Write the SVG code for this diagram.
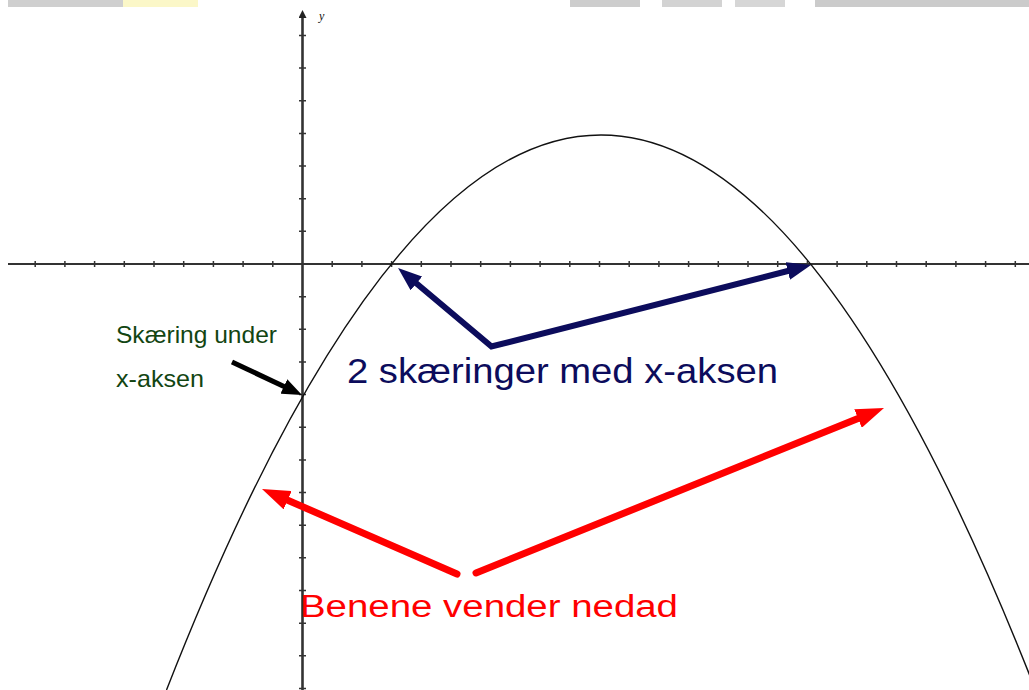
<svg xmlns="http://www.w3.org/2000/svg" width="1029" height="690" viewBox="0 0 1029 690">
<style>
.axis{stroke:#333;fill:none}
.tick{stroke:#333;stroke-width:1.5;fill:none}
.curve{stroke:#111;stroke-width:1.4;fill:none}
.lbl{font-family:"Liberation Sans",Arial,sans-serif}
</style>
<defs>
<marker id="hNavy" viewBox="0 0 24 18" refX="8" refY="9" markerWidth="24" markerHeight="18" markerUnits="userSpaceOnUse" orient="auto-start-reverse"><path d="M0,0 L24,9 L0,18 z" fill="#0c0c5c"/></marker>
<marker id="hRed" viewBox="0 0 28 20" refX="10" refY="10" markerWidth="28" markerHeight="20" markerUnits="userSpaceOnUse" orient="auto"><path d="M0,0 L28,10 L0,20 z" fill="#ff0000"/></marker>
<marker id="hBlack" viewBox="0 0 20 16" refX="6" refY="8" markerWidth="20" markerHeight="16" markerUnits="userSpaceOnUse" orient="auto"><path d="M0,0 L20,8 L0,16 z" fill="#000"/></marker>
<marker id="hAxis" viewBox="0 0 8 8" refX="4" refY="4" markerWidth="8" markerHeight="8" markerUnits="userSpaceOnUse" orient="auto"><path d="M0,0 L8,4 L0,8 z" fill="#222"/></marker>
</defs>
<rect width="1029" height="690" fill="#fff"/>
<g id="scan-strip">
<rect x="8" y="0" width="115" height="7" fill="#cfcfcf"/>
<rect x="123" y="0" width="75" height="7" fill="#fbf7c8"/>
<rect x="570" y="0" width="70" height="7" fill="#cdcdcd"/>
<rect x="662" y="0" width="60" height="7" fill="#d3d3d3"/>
<rect x="735" y="0" width="50" height="7" fill="#d6d6d6"/>
<rect x="815" y="0" width="214" height="7" fill="#cbcbcb"/>
</g>
<g id="axes">
<line class="axis" x1="8" y1="264" x2="1029" y2="264" stroke-width="2"/>
<line class="axis" x1="302.5" y1="690" x2="302.5" y2="14" stroke-width="2.6" marker-end="url(#hAxis)"/>
<path class="tick" d="M35.2,261v6M64.9,261v6M94.6,261v6M124.3,261v6M154,261v6M183.7,261v6M213.4,261v6M243.1,261v6M272.8,261v6M332.2,261v6M361.9,261v6M391.6,261v6M421.3,261v6M451,261v6M480.7,261v6M510.4,261v6M540.1,261v6M569.8,261v6M599.5,261v6M629.2,261v6M658.9,261v6M688.6,261v6M718.3,261v6M748,261v6M777.7,261v6M807.4,261v6M837.1,261v6M866.8,261v6M896.5,261v6M926.2,261v6M955.9,261v6M985.6,261v6M1015.3,261v6"/>
<path class="tick" d="M299,35.45h7M299,68.1h7M299,100.75h7M299,133.4h7M299,166.05h7M299,198.7h7M299,231.35h7M299,296.65h7M299,329.3h7M299,361.95h7M299,394.6h7M299,427.25h7M299,459.9h7M299,492.55h7M299,525.2h7M299,557.85h7M299,590.5h7M299,623.15h7M299,655.8h7M299,688.45h7"/>
<text x="319" y="20" font-family="'Liberation Serif',serif" font-style="italic" font-size="12" fill="#111">y</text>
</g>
<g id="parabola">
<path class="curve" d="M166.5,690 Q601,-420.1 1035.5,690"/>
</g>
<g id="connectors">
<line x1="232" y1="362" x2="289.3" y2="389" stroke="#000" stroke-width="5" marker-end="url(#hBlack)"/>
<polyline points="410.3,278.3 491.5,346.5 795.5,269" fill="none" stroke="#0c0c5c" stroke-width="6" stroke-linejoin="miter" marker-start="url(#hNavy)" marker-end="url(#hNavy)"/>
<line x1="457" y1="574" x2="278.5" y2="496.2" stroke="#ff0000" stroke-width="7" stroke-linecap="round" marker-end="url(#hRed)"/>
<line x1="476" y1="573" x2="867.3" y2="414.75" stroke="#ff0000" stroke-width="7" stroke-linecap="round" marker-end="url(#hRed)"/>
</g>
<g id="label-skaering">
<text class="lbl" x="116" y="343" font-size="24" fill="#124512" textLength="161" lengthAdjust="spacingAndGlyphs">Skæring under</text>
<text class="lbl" x="116" y="387" font-size="24" fill="#124512" textLength="88" lengthAdjust="spacingAndGlyphs">x-aksen</text>
</g>
<g id="label-two">
<text class="lbl" x="347" y="383" font-size="35" fill="#0c0c5c" textLength="431" lengthAdjust="spacingAndGlyphs">2 skæringer med x-aksen</text>
</g>
<g id="label-benene">
<text class="lbl" x="300" y="617" font-size="31" fill="#ff0000" textLength="378" lengthAdjust="spacingAndGlyphs">Benene vender nedad</text>
</g>
</svg>
